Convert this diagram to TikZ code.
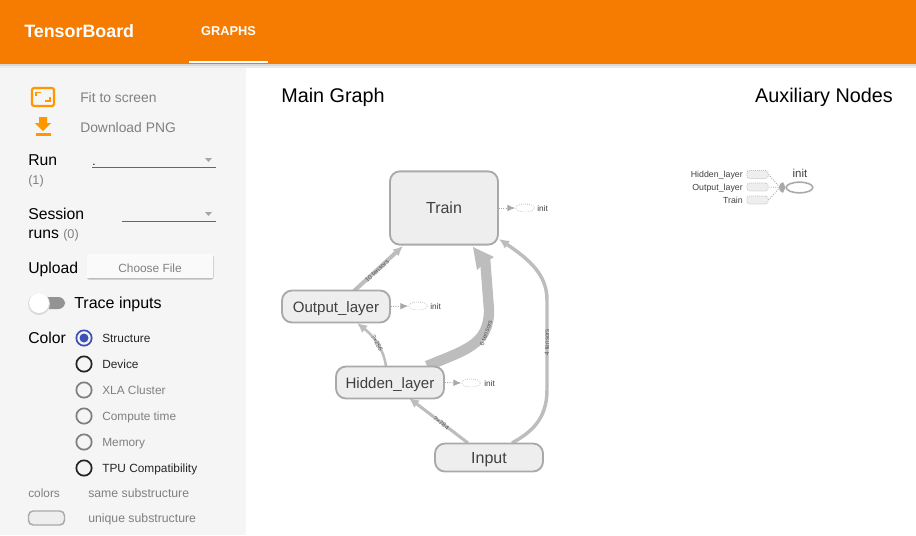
\documentclass[tikz,border=0pt]{standalone}
\usepackage{fontspec}
\setmainfont{Liberation Sans}
\usetikzlibrary{arrows,arrows.meta,positioning,shapes}

\definecolor{tbOrange}{HTML}{F57C00}
\definecolor{tbPanel}{HTML}{F5F5F5}
\definecolor{tbNode}{HTML}{EEEEEE}
\definecolor{tbLine}{HTML}{A9A9A9}
\definecolor{tbEdge}{HTML}{BDBDBD}
\definecolor{tbIcon}{HTML}{FF9800}
\definecolor{tbGrey}{HTML}{808080}
\definecolor{tbBlue}{HTML}{3F51B5}

\tikzset{
	px/.style={x=0.75pt,y=-0.75pt},
	graphnode/.style={draw=tbLine,line width=1.4pt,fill=tbNode,rounded corners=7.5pt,inner sep=0pt,text=black!75,text height=8.6pt,text depth=0pt,font=\fontsize{12}{12}\selectfont},
	layernode/.style={graphnode,font=\fontsize{11.3}{12}\selectfont},
	edge/.style={draw=tbEdge,line width=#1,-{Latex[length=7.5pt,width=7pt]}},
	edgelabel/.style={font=\fontsize{4.8}{5}\selectfont,text=black!65,inner sep=0pt},
	ctrl/.style={font=\fontsize{10.4}{11}\selectfont,anchor=west,inner sep=0pt,text=tbGrey,text height=7.4pt,text depth=0pt},
	side/.style={font=\fontsize{11.8}{12}\selectfont,anchor=west,inner sep=0pt,text=black,text height=8.4pt,text depth=0pt},
	small/.style={font=\fontsize{8.9}{9}\selectfont,anchor=west,inner sep=0pt,text height=6.4pt,text depth=0pt},
	count/.style={font=\fontsize{9.5}{10}\selectfont,anchor=west,inner sep=0pt,text=tbGrey,text height=7pt,text depth=0pt},
	heading/.style={font=\fontsize{14.85}{15}\selectfont,inner sep=0pt,text height=10.6pt,text depth=0pt},
	radio/.style={circle,draw=#1,line width=1.3pt,minimum size=11.5pt,inner sep=0pt},
	aux/.style={draw=black!35,densely dotted,line width=0.5pt,fill=tbNode,rounded corners=2pt,minimum width=16pt,minimum height=6pt,inner sep=0pt},
	auxlabel/.style={font=\fontsize{6.6}{7}\selectfont,anchor=east,inner sep=0pt,text=black!75,text height=4.8pt,text depth=0pt},
	stub/.style={draw=tbLine,densely dotted,line width=0.7pt,-{Latex[length=6pt,width=5pt]}},
	stubnode/.style={ellipse,draw=black!30,densely dotted,line width=0.5pt,minimum width=14pt,minimum height=6pt,inner sep=0pt},
	stublabel/.style={font=\fontsize{6.2}{7}\selectfont,inner sep=0pt,anchor=west,text=black!75,text height=4.5pt,text depth=0pt}
}

\begin{document}
\begin{tikzpicture}[px]
	\useasboundingbox (0,0) rectangle (916,535);

	% panel
	\fill[tbPanel] (0,64) rectangle (246,535);

	% header
	\fill[black!8] (0,64) rectangle (916,68);
	\fill[black!15] (0,64) rectangle (916,66);
	\fill[tbOrange] (0,0) rectangle (916,64);
	\fill[white] (189,61) rectangle (268,63);
	\node[anchor=west,inner sep=0pt,text=white,text height=9.8pt,text depth=0pt,font=\bfseries\fontsize{13.4}{15}\selectfont] (title) at (24,31) {TensorBoard};
	\node[text=white,inner sep=0pt,text height=7pt,text depth=0pt,font=\bfseries\fontsize{9.6}{10}\selectfont] (tab) at (228.5,31) {GRAPHS};

	% icons
	\draw[tbIcon,line width=1.6pt,rounded corners=1.5pt] (32,88) rectangle (54,106);
	\draw[tbIcon,line width=1.4pt] (36,96) -- (36,92.5) -- (41,92.5);
	\draw[tbIcon,line width=1.4pt] (50,97) -- (50,101) -- (45,101);
	\fill[tbIcon] (39,117) -- (47,117) -- (47,123) -- (51,123) -- (43,131) -- (35,123) -- (39,123) -- cycle;
	\fill[tbIcon] (35.5,133) rectangle (50.5,136);
	\node[ctrl] (fit) at (80,98) {Fit to screen};
	\node[ctrl] (png) at (80,128) {Download PNG};

	% selectors
	\node[side] (run) at (28,160) {Run};
	\node[count] (runcount) at (28,180) {(1)};
	\draw[black!60,line width=0.6pt] (92,167) -- (216,167);
	\fill[tbGrey!70] (205,158) -- (212,158) -- (208.5,162) -- cycle;
	\node[small] (rundot) at (92,161) {.};
	\node[side] (session) at (28,214) {Session};
	\node[side] (sruns) at (28,233) {runs};
	\node[count] (sruncount) at (63,234) {(0)};
	\draw[black!60,line width=0.6pt] (122,221) -- (216,221);
	\fill[tbGrey!70] (205,212) -- (212,212) -- (208.5,216) -- cycle;

	% upload
	\node[side] (upload) at (28,268) {Upload};
	\fill[black!25,rounded corners=1.5pt] (87,255) rectangle (213.5,279.5);
	\fill[tbPanel!50!white] (87,254) rectangle (212.5,278);
	\node[inner sep=0pt,text=tbGrey,text height=6.4pt,text depth=0pt,font=\fontsize{8.9}{9}\selectfont] (choose) at (150,268.5) {Choose File};

	% toggle
	\fill[tbGrey!85,rounded corners=5pt] (35,297) rectangle (65,309);
	\fill[black!15] (39,304) circle (11);
	\fill[white] (39,303) circle (10);
	\node[side,font=\fontsize{12}{12}\selectfont] (trace) at (74,303) {Trace inputs};

	% color options
	\node[side] (color) at (28,338) {Color};
	\node[radio=tbBlue] (rstruct) at (84,338) {};
	\fill[tbBlue] (rstruct) circle (4.5);
	\node[radio=black!85] (rdev) at (84,364) {};
	\node[radio=tbGrey] (rxla) at (84,390) {};
	\node[radio=tbGrey] (rtime) at (84,416) {};
	\node[radio=tbGrey] (rmem) at (84,442) {};
	\node[radio=black!85] (rtpu) at (84,468) {};
	\node[small,text=black!85] (lstruct) at (102,338) {Structure};
	\node[small,text=black!85] (ldev) at (102,364) {Device};
	\node[small,text=tbGrey] (lxla) at (102,390) {XLA Cluster};
	\node[small,text=tbGrey] (ltime) at (102,416) {Compute time};
	\node[small,text=tbGrey] (lmem) at (102,442) {Memory};
	\node[small,text=black!85] (ltpu) at (102,468) {TPU Compatibility};

	% legend
	\node[small,text=tbGrey] (colors) at (28,493) {colors};
	\node[small,text=tbGrey,font=\fontsize{9.2}{9}\selectfont] (same) at (88,493) {same substructure};
	\draw[tbLine,line width=1.1pt,fill=tbNode,rounded corners=3.5pt] (28.5,511) rectangle (64.5,525);
	\node[small,text=tbGrey,font=\fontsize{9.2}{9}\selectfont] (unique) at (88,518) {unique substructure};

	% titles
	\node[heading] (main) at (333,95) {Main Graph};
	\node[heading] (auxnodes) at (824,95) {Auxiliary Nodes};

	%---------------------
	% main graph
	%---------------------
	\coordinate (o1) at (354,291);
	\coordinate (o2) at (403,246);
	\coordinate (h1) at (386,366);
	\coordinate (h2) at (357,323);
	\coordinate (h3) at (427,366);
	\coordinate (t3) at (485,258);
	\coordinate (i1) at (468,443);
	\coordinate (h4) at (409,398);
	\coordinate (i2) at (512,443);
	\coordinate (t4) at (499,239);

	% edges
	\draw[edge=3pt] (o1) -- (o2);
	\node[edgelabel,rotate=42] (l10) at (377,271) {10 tensors};
	\draw[edge=1.9pt] (h1) .. controls (383,346) and (371,334) .. (h2);
	\node[edgelabel,rotate=-62] (lhid) at (377,343) {?×256};
	\draw[draw=tbEdge,line width=7.8pt] (h3) .. controls (465,350) and (489,345) .. (489,310) -- (t3);
	\fill[tbEdge] (473,247) -- (494,257) -- (486,262) -- (477,270) -- cycle;
	\node[edgelabel,rotate=70] (l6) at (486,333) {6 tensors};
	\draw[edge=2.3pt] (i1) -- (h4);
	\node[edgelabel,rotate=-37] (lin) at (441,423) {?×784};
	\draw[edge=2.6pt] (i2) .. controls (530,433) and (547,420) .. (547,390) -- (547,300) .. controls (547,275) and (530,260) .. (t4);
	\node[edgelabel,rotate=90] (l4) at (547,342) {4 tensors};

	% nodes over the edge ends
	\node[graphnode,minimum width=81pt,minimum height=55pt] (train) at (444,208) {Train};
	\node[layernode,minimum width=81pt,minimum height=24pt] (output) at (336,306.5) {Output\_layer};
	\node[layernode,minimum width=81pt,minimum height=24pt] (hidden) at (390,382.5) {Hidden\_layer};
	\node[graphnode,minimum width=81pt,minimum height=21pt] (input) at (489,457.5) {Input};

	% init stubs
	\node[stubnode] (itrain) at (525,208) {};
	\node[stublabel] (ltrain) at (537,208) {init};
	\draw[stub] (train.east) -- (itrain.west);
	\node[stubnode] (ioutput) at (418,306) {};
	\node[stublabel] (loutput) at (430,306) {init};
	\draw[stub] (output.east) -- (ioutput.west);
	\node[stubnode] (ihidden) at (471,383) {};
	\node[stublabel] (lhidden) at (484,383) {init};
	\draw[stub] (hidden.east) -- (ihidden.west);

	%---------------------
	% auxiliary nodes
	%---------------------
	\node[aux] (ahidden) at (757.5,174.5) {};
	\node[aux] (aoutput) at (757.5,187) {};
	\node[aux] (atrain) at (757.5,200) {};
	\node[auxlabel] (lahidden) at (743,174.5) {Hidden\_layer};
	\node[auxlabel] (laoutput) at (743,187) {Output\_layer};
	\node[auxlabel] (latrain) at (743,200) {Train};
	\node[ellipse,draw=tbLine,line width=1.2pt,minimum width=20pt,minimum height=8pt,inner sep=0pt] (ainit) at (799.5,187.5) {};
	\node[font=\fontsize{8.6}{9}\selectfont,inner sep=0pt,text=black!75,text height=6.2pt,text depth=0pt] (linit) at (800,173) {init};
	\fill[tbLine] (785.5,187.5) -- (783,182) -- (780,184) -- (779,187.5) -- (780,191) -- (783,193) -- cycle;
	\coordinate (ajoin) at (780,187.5);
	\draw[tbLine,densely dotted,line width=0.7pt] (ahidden.east) -- (ajoin);
	\draw[tbLine,densely dotted,line width=0.7pt] (aoutput.east) -- (ajoin);
	\draw[tbLine,densely dotted,line width=0.7pt] (atrain.east) -- (ajoin);
\end{tikzpicture}
\end{document}
